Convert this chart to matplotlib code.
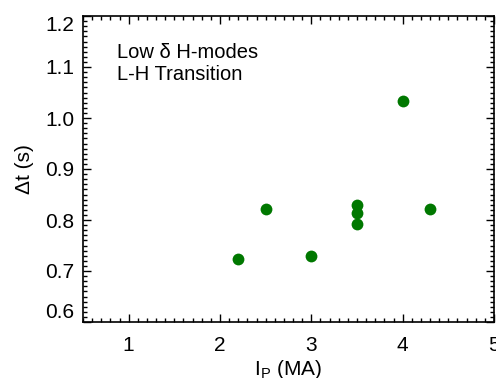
import matplotlib
matplotlib.use("Agg")
import matplotlib.pyplot as plt
from matplotlib.ticker import MultipleLocator

plt.rcParams['font.family'] = ['Liberation Sans', 'DejaVu Sans']

ip_ma = [2.2, 2.5, 3.0, 3.5, 3.5, 3.5, 4.0, 4.3]
dt_s = [0.724, 0.822, 0.729, 0.829, 0.813, 0.793, 1.034, 0.822]

fig = plt.figure(figsize=(4.96, 3.78), dpi=100)
ax = fig.add_axes([83/496, 1-322/378, 411/496, 306/378])
ax.plot(ip_ma, dt_s, 'o', color='#007800', markersize=8.5, markeredgewidth=0)
ax.set_xlim(0.5, 5.0)
ax.set_ylim(0.6, 1.2)
ax.xaxis.set_minor_locator(MultipleLocator(0.1))
ax.yaxis.set_minor_locator(MultipleLocator(0.01))
ax.set_xticks([1, 2, 3, 4, 5])
ax.set_xticklabels(['1', '2', '3', '4', '5'])
ax.set_yticks([0.6, 0.7, 0.8, 0.9, 1.0, 1.1, 1.2])
ax.set_yticklabels(['0.6', '0.7', '0.8', '0.9', '1.0', '1.1', '1.2'])
ax.tick_params(which='both', direction='in', top=True, right=True, labelsize=15, width=1)
ax.tick_params(which='major', length=6)
ax.tick_params(axis='x', which='major', pad=10)
ax.tick_params(axis='y', which='major', pad=6)
ax.tick_params(which='minor', length=3)
ylabels = ax.get_yticklabels()
ylabels[0].set_va('bottom')
ylabels[-1].set_va('top')
for s in ax.spines.values():
    s.set_linewidth(1.2)
ax.set_xlabel('I$_\\mathregular{P}$ (MA)', fontsize=15, labelpad=2)
ax.set_ylabel('Δt (s)', fontsize=15, labelpad=8)
ax.text(0.083, 0.88, 'Low δ H-modes', transform=ax.transAxes, fontsize=14.5, va='center')
ax.text(0.083, 0.81, 'L-H Transition', transform=ax.transAxes, fontsize=14.5, va='center')
fig.savefig('out.png', dpi=100)
